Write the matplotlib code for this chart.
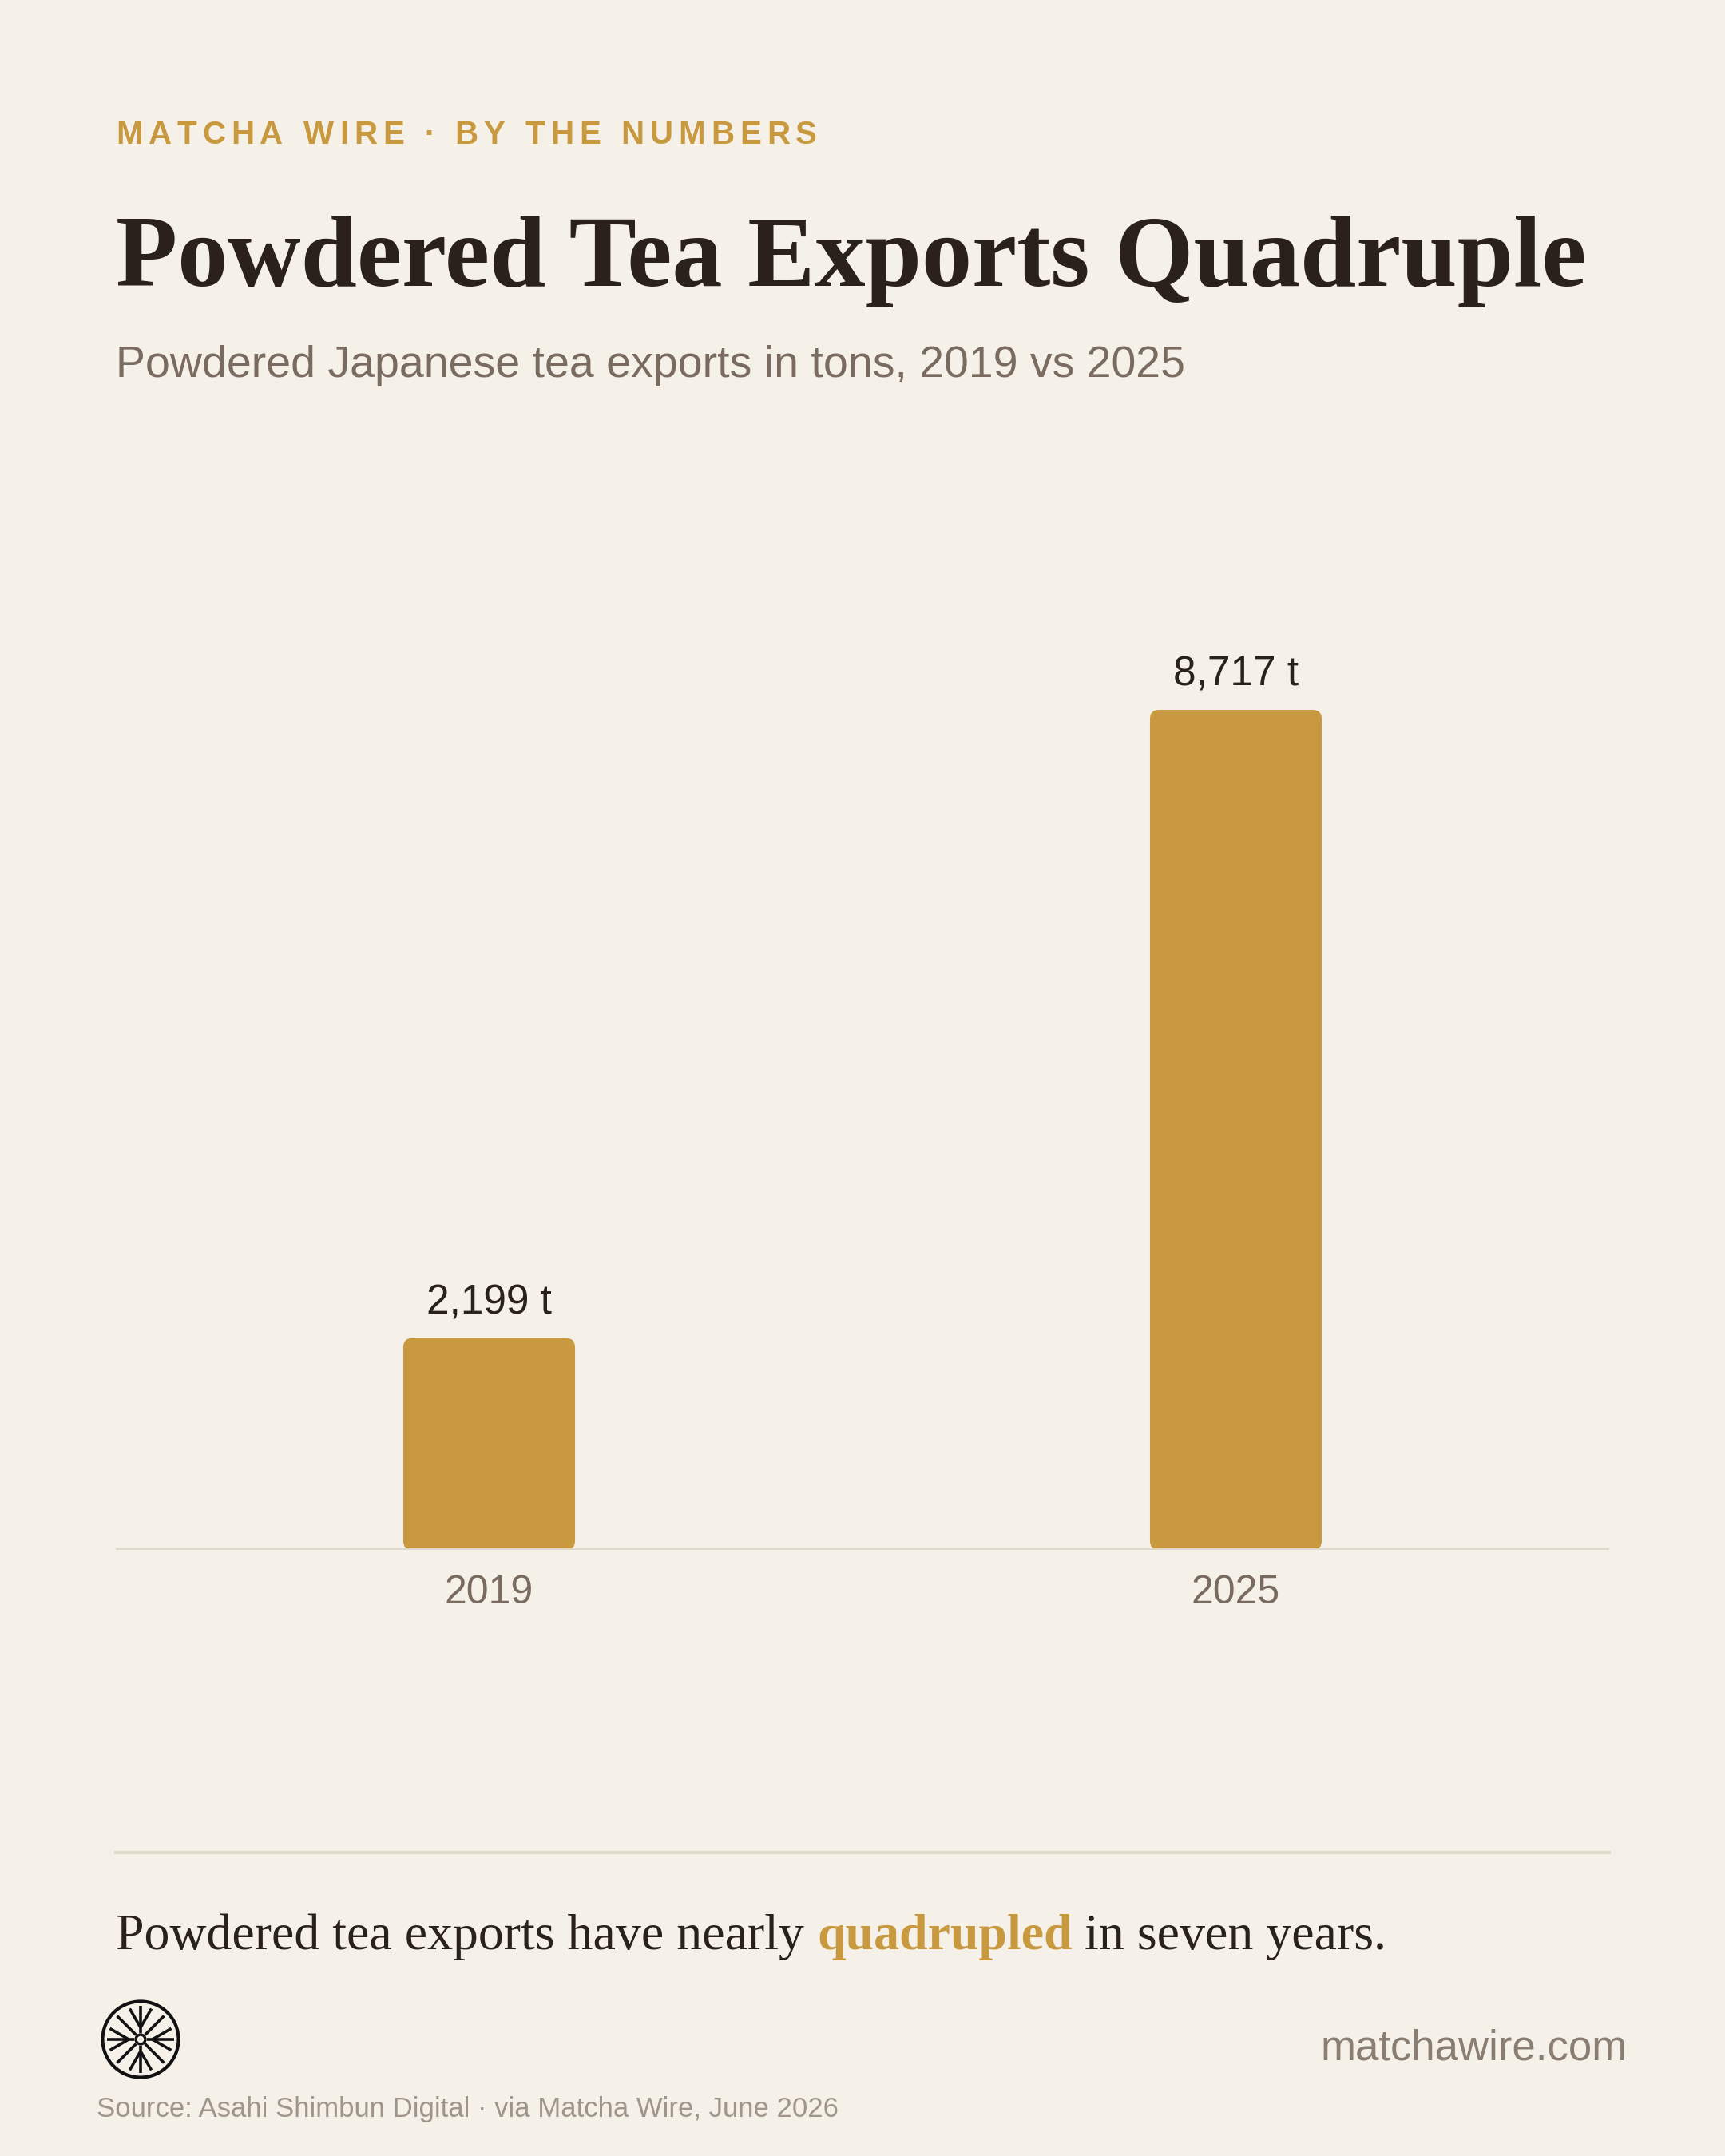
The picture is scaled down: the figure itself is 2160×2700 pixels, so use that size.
#!/usr/bin/env python3
"""
Matcha Wire - powdered tea exports, 2019 vs 2025.
Bar chart poster, saved as out.png (2160x2700).
"""

import numpy as np
import matplotlib
matplotlib.use("Agg")
import matplotlib.pyplot as plt
from matplotlib.patches import FancyBboxPatch, Circle

# data
YEARS = ["2019", "2025"]
EXPORTS_T = [2199, 8717]
VALUE_LABELS = ["2,199 t", "8,717 t"]

KICKER = "MATCHA WIRE · BY THE NUMBERS"
TITLE = "Powdered Tea Exports Quadruple"
SUBTITLE = "Powdered Japanese tea exports in tons, 2019 vs 2025"
TAKEAWAY = ["Powdered tea exports have nearly ", "quadrupled", " in seven years."]
SOURCE = "Source: Asahi Shimbun Digital · via Matcha Wire, June 2026"
SITE = "matchawire.com"

# colours
BG = "#F5F1E9"
GOLD = "#C9993F"
DARK = "#2A211D"
MUTED = "#7A6B60"
LIGHT_MUTED = "#A0958A"
RULE = "#E0D9CB"
INK = "#111111"

W, H = 2160, 2700
SANS = ["Liberation Sans", "DejaVu Sans"]
SERIF = ["Liberation Serif", "DejaVu Serif"]


def fx(px):
    return px / W


def fy(py):
    return 1 - py / H


def tracked_text(fig, x, y, text, tracking, **kw):
    """Draw text one char at a time with extra spacing (pixels)."""
    renderer = fig.canvas.get_renderer()
    probe = fig.text(0, 0, "M M", **kw)
    probe2 = fig.text(0, 0, "MM", **kw)
    space_w = (probe.get_window_extent(renderer).width
               - probe2.get_window_extent(renderer).width)
    probe.remove()
    probe2.remove()
    cur = x
    for ch in text:
        if ch == " ":
            cur += space_w + tracking
            continue
        t = fig.text(fx(cur), fy(y), ch, **kw)
        cur += t.get_window_extent(renderer).width + tracking


def draw_logo(fig, cx, cy, r):
    lax = fig.add_axes([fx(cx - r), fy(cy + r), fx(2 * r), 2 * r / H])
    lax.set_xlim(-1.05, 1.05)
    lax.set_ylim(-1.05, 1.05)
    lax.set_aspect("equal")
    lax.axis("off")
    lax.add_patch(Circle((0, 0), 0.96, fill=False, edgecolor=INK, linewidth=3))
    lax.add_patch(Circle((0, 0), 0.12, fill=False, edgecolor=INK, linewidth=2.4))
    for k in range(8):
        a = np.pi / 4 * k
        c, s = np.cos(a), np.sin(a)
        lax.plot([0.16 * c, 0.84 * c], [0.16 * s, 0.84 * s], color=INK,
                 linewidth=2.6, solid_capstyle="butt")
        if k % 2 == 0:
            for d in (-1, 1):
                b = a + d * np.pi / 6
                px, py = 0.3 * c, 0.3 * s
                lax.plot([px, px + 0.55 * np.cos(b)], [py, py + 0.55 * np.sin(b)],
                         color=INK, linewidth=2.6, solid_capstyle="butt")


def main():
    fig = plt.figure(figsize=(W / 100, H / 100), dpi=100, facecolor=BG)
    renderer = fig.canvas.get_renderer()

    # header
    tracked_text(fig, 145, 169, KICKER, 7, fontsize=29, color=GOLD,
                 family=SANS, fontweight="bold", va="center", ha="left")
    fig.text(fx(145), fy(358), TITLE, fontsize=91, color=DARK, family=SERIF,
             fontweight="bold", va="baseline", ha="left")
    fig.text(fx(145), fy(458), SUBTITLE, fontsize=40, color=MUTED, family=SANS,
             va="center", ha="left")

    # chart
    ax = fig.add_axes([fx(145), fy(1941), fx(2015 - 145), (1941 - 700) / H])
    ax.set_facecolor(BG)
    x = np.arange(len(YEARS))
    bar_w = 0.23
    ymax = 10283
    ax.set_xlim(-0.5, 1.5)
    ax.set_ylim(0, ymax)

    # y units per x unit (in pixels) so corners stay round
    px_per_x = (2015 - 145) / 2.0
    px_per_y = (1941 - 700) / ymax
    aspect = px_per_x / px_per_y
    for xi, v in zip(x, EXPORTS_T):
        patch = FancyBboxPatch((xi - bar_w / 2, 0), bar_w, v,
                               boxstyle="round,pad=0,rounding_size=0.012",
                               mutation_aspect=aspect,
                               facecolor=GOLD, edgecolor="none", zorder=2)
        ax.add_patch(patch)

    for xi, v, lab in zip(x, EXPORTS_T, VALUE_LABELS):
        ax.annotate(lab, (xi, v), xytext=(0, 14), textcoords="offset points",
                    ha="center", va="bottom", fontsize=37, color=DARK,
                    family=SANS)

    ax.axhline(0, color=RULE, linewidth=3, zorder=3)
    ax.set_xticks(x)
    ax.set_xticklabels(YEARS, fontsize=36, color=MUTED, family=SANS)
    ax.tick_params(axis="x", length=0, pad=22)
    ax.set_yticks([])
    for s in ax.spines.values():
        s.set_visible(False)

    # divider
    fig.add_artist(plt.Line2D([fx(145), fx(2015)], [fy(2320), fy(2320)],
                              color=RULE, linewidth=3))

    # takeaway line with highlighted word
    cur = 145
    for i, part in enumerate(TAKEAWAY):
        hl = i == 1
        t = fig.text(fx(cur), fy(2441), part, fontsize=46, family=SERIF,
                     color=GOLD if hl else DARK,
                     fontweight="bold" if hl else "normal",
                     va="baseline", ha="left")
        cur += t.get_window_extent(renderer).width

    draw_logo(fig, 176, 2554, 52)

    # footer
    fig.text(fx(2038), fy(2566), SITE, fontsize=38, color="#8A7D72", family=SANS,
             va="center", ha="right")
    fig.text(fx(121), fy(2641), SOURCE, fontsize=25, color=LIGHT_MUTED, family=SANS,
             va="center", ha="left")

    fig.savefig("out.png", dpi=100, facecolor=BG)
    plt.close(fig)


if __name__ == "__main__":
    main()
